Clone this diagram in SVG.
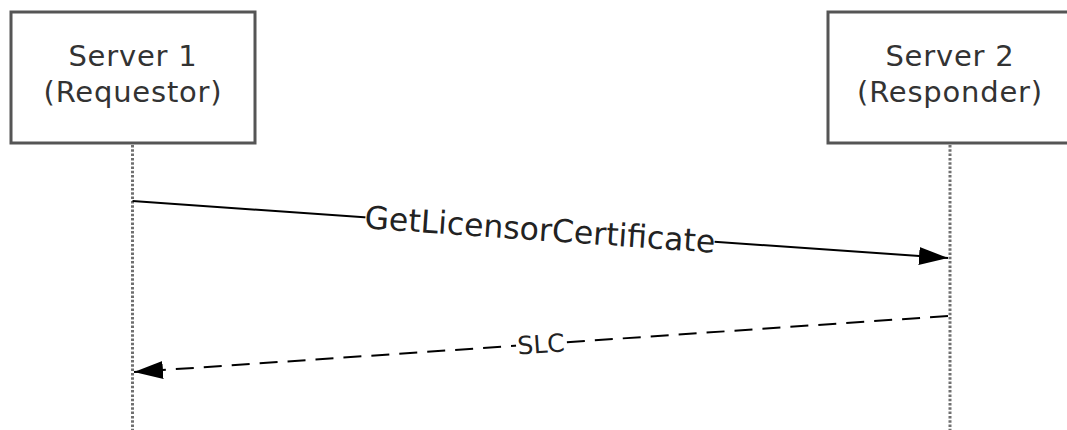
<svg xmlns="http://www.w3.org/2000/svg" width="1067" height="430" viewBox="0 0 1067 430">
  <style>
    .box { fill: #ffffff; stroke: #555555; stroke-width: 3; }
    .lbl { font-family: "DejaVu Sans", Verdana, sans-serif; font-size: 29px; letter-spacing: 0.8px; fill: #333333; text-anchor: middle; }
    .life { stroke: #707070; stroke-width: 3; stroke-dasharray: 2.5 1.8; fill: none; }
    .msg { stroke: #000000; stroke-width: 2; fill: none; }
    .dash { stroke-dasharray: 18 10; }
    .mlbl { font-family: "DejaVu Sans", Verdana, sans-serif; fill: #222222; text-anchor: middle; }
    .mask { fill: #ffffff; }
  </style>
  <defs>
    <marker id="arrow" markerUnits="userSpaceOnUse" markerWidth="30" markerHeight="20" viewBox="0 0 30 20" refX="29" refY="10" orient="auto">
      <path d="M0,1 L29,10 L0,19 Z" fill="#000000"/>
    </marker>
  </defs>

  <g id="lifelines">
    <line class="life" x1="132.5" y1="145" x2="132.5" y2="430"/>
    <line class="life" x1="950" y1="145" x2="950" y2="430"/>
  </g>

  <g id="server1">
    <rect class="box" x="11" y="12" width="244" height="131"/>
    <text class="lbl" x="133" y="66">Server 1</text>
    <text class="lbl" x="133" y="102">(Requestor)</text>
  </g>

  <g id="server2">
    <rect class="box" x="828" y="12" width="244" height="131"/>
    <text class="lbl" x="950" y="66">Server 2</text>
    <text class="lbl" x="950" y="102">(Responder)</text>
  </g>

  <g id="connectors">
    <g id="msg1">
      <line class="msg" x1="132.5" y1="201" x2="948" y2="258" marker-end="url(#arrow)"/>
      <g transform="translate(540,229.5) rotate(4)">
        <rect class="mask" x="-175" y="-16" width="350" height="32"/>
        <text class="mlbl" x="0" y="11" font-size="31.5">GetLicensorCertificate</text>
      </g>
    </g>
    <g id="msg2">
      <line class="msg dash" x1="948" y1="316" x2="134" y2="372" marker-end="url(#arrow)"/>
      <g transform="translate(541,344) rotate(-3.94)">
        <rect class="mask" x="-25" y="-12" width="50" height="24"/>
        <text class="mlbl" x="0" y="9" font-size="25">SLC</text>
      </g>
    </g>
  </g>
</svg>
